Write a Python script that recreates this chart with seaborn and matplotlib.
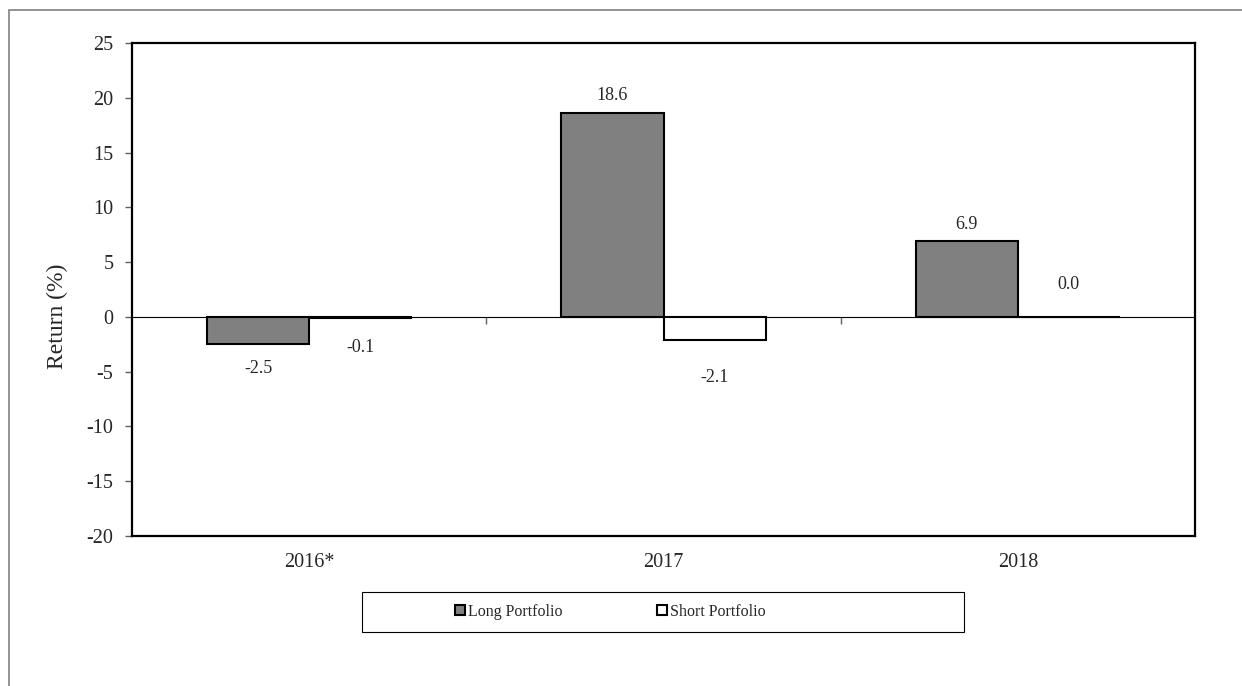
import matplotlib
matplotlib.use("Agg")
import matplotlib.pyplot as plt
from matplotlib.patches import Rectangle
from matplotlib.lines import Line2D
import seaborn as sns
import pandas as pd

# Annual returns of the two portfolios
years = ["2016*", "2017", "2018"]
long_returns = [-2.5, 18.6, 6.9]
short_returns = [-0.1, -2.1, 0.0]
series_names = ["Long Portfolio", "Short Portfolio"]
y_ticks = [-20, -15, -10, -5, 0, 5, 10, 15, 20, 25]

df = pd.DataFrame({
    "Year": years * 2,
    "Return": long_returns + short_returns,
    "Portfolio": [series_names[0]] * len(years) + [series_names[1]] * len(years),
})

sns.set_theme(style="white")
plt.rcParams["font.family"] = ["Liberation Serif", "DejaVu Serif"]
plt.rcParams["axes.unicode_minus"] = False

fig = plt.figure(figsize=(12.42, 6.86), dpi=100)
ax = fig.add_axes([0.1063, 0.2187, 0.8559, 0.7186])

palette = {series_names[0]: "#808080", series_names[1]: "#ffffff"}
sns.barplot(data=df, x="Year", y="Return", hue="Portfolio", palette=palette,
            order=years, hue_order=series_names, width=0.576, gap=0,
            errorbar=None, edgecolor="black", linewidth=1.5, saturation=1,
            legend=False, ax=ax)

ax.set_ylim(-20, 25)
ax.set_xlim(-0.5, len(years) - 0.5)
ax.set_yticks(y_ticks)
ax.set_xlabel("")
ax.set_ylabel("Return (%)", fontsize=17)
ax.yaxis.set_label_coords(-0.0605, 0.446)
ax.tick_params(axis="y", length=5, width=1, color="#606060", direction="out",
               left=True, labelsize=14.5, pad=8.5)
ax.tick_params(axis="x", length=0, labelsize=14.5, pad=12)
for sp in ax.spines.values():
    sp.set_color("black")
    sp.set_linewidth(1.6)

# Horizontal axis crossing at zero, with ticks between categories
sec = ax.secondary_xaxis(0, transform=ax.transData)
sec.set_xticks([0.5, 1.5])
sec.set_xticklabels([])
sec.tick_params(axis="x", length=5, width=1, color="#606060", direction="out")
sec.spines["bottom"].set_color("black")
sec.spines["bottom"].set_linewidth(0.8)

# Value labels (offsets in points beyond the bar end)
pads = [[11, 6.5, 6], [15, 21, 17]]
for cont, pad_list in zip(ax.containers, pads):
    for bar, val, pad in zip(cont.patches, cont.datavalues, pad_list):
        up = val >= 0
        x = bar.get_x() + bar.get_width() / 2
        ends = (bar.get_y(), bar.get_y() + bar.get_height())
        y = max(ends) if up else min(ends)
        ax.annotate(f"{val:.1f}", xy=(x, y), xytext=(0, pad if up else -pad),
                    textcoords="offset points", ha="center",
                    va="bottom" if up else "top", fontsize=13)

# Legend in a separate box below the plot
handles = [
    Line2D([], [], linestyle="none", marker="s", markersize=6.5,
           markerfacecolor="#808080", markeredgecolor="black", markeredgewidth=1.5),
    Line2D([], [], linestyle="none", marker="s", markersize=6.5,
           markerfacecolor="white", markeredgecolor="black", markeredgewidth=1.5),
]
fig.legend(handles, series_names, loc="center", bbox_to_anchor=(0.4915, 0.108),
           ncol=2, frameon=False, fontsize=11.5, handlelength=0.6,
           handletextpad=0.2, columnspacing=5.9)
fig.patches.append(Rectangle((362 / 1242, 1 - 632 / 686), 602 / 1242, 40 / 686,
                             transform=fig.transFigure, fill=False,
                             edgecolor="black", linewidth=0.8))

# Outer chart frame
fig.patches.append(Rectangle((9 / 1242, -0.1), 1.2, 1.1 - 10 / 686,
                             transform=fig.transFigure, fill=False,
                             edgecolor="#808080", linewidth=1.2))

fig.savefig("out.png", dpi=100, facecolor="white")
